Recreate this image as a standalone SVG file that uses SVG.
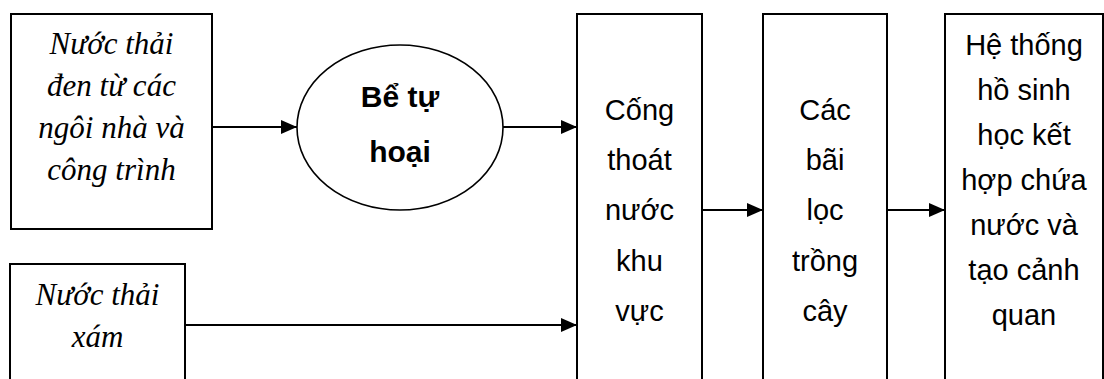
<svg xmlns="http://www.w3.org/2000/svg" width="1104" height="379" viewBox="0 0 1104 379">
  <style>
    .box { fill: #ffffff; stroke: #000000; stroke-width: 2; }
    .oval { fill: #ffffff; stroke: #000000; stroke-width: 1.6; }
    .serif { font-family: "Liberation Serif", "Times New Roman", serif; font-style: italic; font-size: 31px; fill: #000000; text-anchor: middle; }
    .sans { font-family: "Liberation Sans", Arial, sans-serif; font-size: 29px; fill: #000000; text-anchor: middle; }
    .bold { font-weight: bold; font-size: 30px; }
    .edge { stroke: #000000; stroke-width: 2; fill: none; }
  </style>
  <defs>
    <marker id="arrow" markerUnits="userSpaceOnUse" markerWidth="16" markerHeight="16" viewBox="0 0 16 16" refX="16" refY="8" orient="auto">
      <path d="M0,1 L16,8 L0,15 Z" fill="#000000"/>
    </marker>
  </defs>

  <rect width="1104" height="379" fill="#ffffff"/>

  <!-- sources -->
  <g id="black-water">
    <rect class="box" x="11" y="14" width="201" height="215"/>
    <text class="serif" x="111.5" y="54">Nước thải</text>
    <text class="serif" x="111.5" y="96">đen từ các</text>
    <text class="serif" x="111.5" y="138">ngôi nhà và</text>
    <text class="serif" x="111.5" y="180">công trình</text>
  </g>

  <g id="grey-water">
    <rect class="box" x="10" y="264" width="175" height="130"/>
    <text class="serif" x="97.5" y="305">Nước thải</text>
    <text class="serif" x="97.5" y="347">xám</text>
  </g>

  <!-- treatment chain -->
  <g id="septic-tank">
    <ellipse class="oval" cx="400" cy="127.5" rx="103" ry="82.5"/>
    <text class="sans bold" x="400" y="107">Bể tự</text>
    <text class="sans bold" x="400" y="162">hoại</text>
  </g>

  <g id="drain">
    <rect class="box" x="577" y="14" width="125" height="380"/>
    <text class="sans" x="639.5" y="120">Cống</text>
    <text class="sans" x="639.5" y="170">thoát</text>
    <text class="sans" x="639.5" y="220">nước</text>
    <text class="sans" x="639.5" y="271">khu</text>
    <text class="sans" x="639.5" y="321">vực</text>
  </g>

  <g id="planted-filters">
    <rect class="box" x="763" y="14" width="124" height="380"/>
    <text class="sans" x="825" y="120">Các</text>
    <text class="sans" x="825" y="170">bãi</text>
    <text class="sans" x="825" y="220">lọc</text>
    <text class="sans" x="825" y="271">trồng</text>
    <text class="sans" x="825" y="321">cây</text>
  </g>

  <g id="ponds">
    <rect class="box" x="945" y="14" width="158" height="380"/>
    <text class="sans" x="1024" y="55">Hệ thống</text>
    <text class="sans" x="1024" y="100">hồ sinh</text>
    <text class="sans" x="1024" y="145">học kết</text>
    <text class="sans" x="1024" y="190">hợp chứa</text>
    <text class="sans" x="1024" y="235">nước và</text>
    <text class="sans" x="1024" y="280">tạo cảnh</text>
    <text class="sans" x="1024" y="325">quan</text>
  </g>

  <!-- flow connectors -->
  <g id="connectors">
    <line class="edge" x1="212" y1="127" x2="297" y2="127" marker-end="url(#arrow)"/>
    <line class="edge" x1="503" y1="127" x2="577" y2="127" marker-end="url(#arrow)"/>
    <line class="edge" x1="185" y1="325" x2="577" y2="325" marker-end="url(#arrow)"/>
    <line class="edge" x1="702" y1="210" x2="763" y2="210" marker-end="url(#arrow)"/>
    <line class="edge" x1="887" y1="210" x2="945" y2="210" marker-end="url(#arrow)"/>
  </g>
</svg>
